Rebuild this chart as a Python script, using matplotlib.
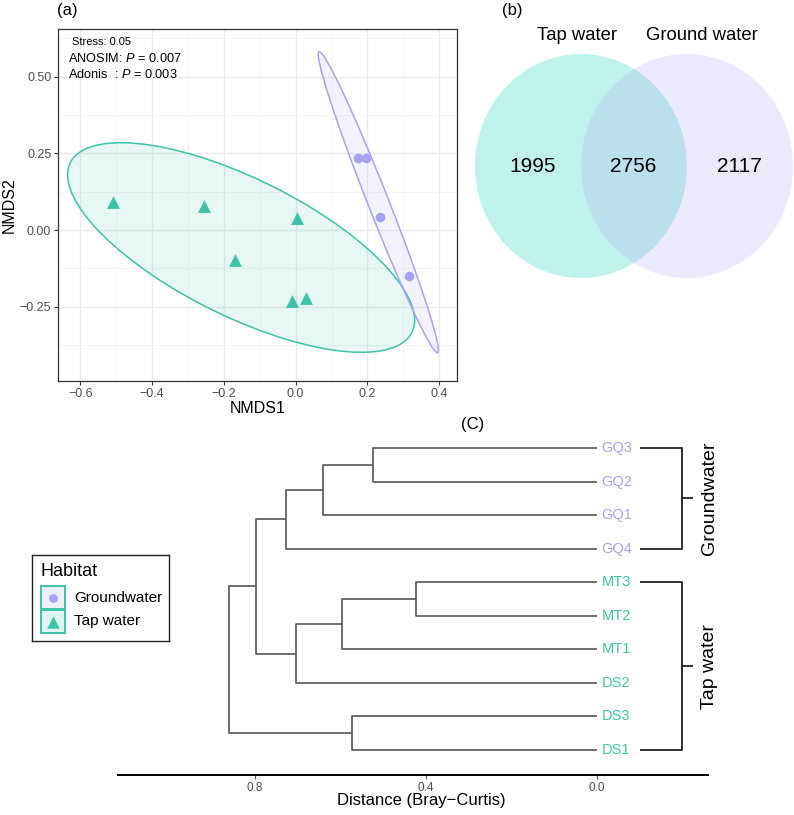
import numpy as np
import matplotlib.pyplot as plt
from matplotlib.patches import Ellipse, Rectangle
from matplotlib.ticker import FuncFormatter, MultipleLocator

plt.rcParams['font.family'] = ['Liberation Sans', 'DejaVu Sans']
plt.rcParams['mathtext.fontset'] = 'custom'
plt.rcParams['mathtext.rm'] = 'Liberation Sans'
plt.rcParams['mathtext.it'] = 'Liberation Sans:italic'

teal = '#3cc3a8'
lav = '#a6a2f4'

# (a) NMDS scores
tap_x = [-0.510, -0.255, -0.168, 0.004, -0.011, 0.029]
tap_y = [0.092, 0.078, -0.098, 0.038, -0.230, -0.221]
gw_x = [0.174, 0.196, 0.235, 0.316]
gw_y = [0.234, 0.234, 0.044, -0.149]
stats_text = ['Stress: 0.05', r'ANOSIM: $\mathit{P}$ = 0.007', r'Adonis  : $\mathit{P}$ = 0.003']

# (b) Venn counts: tap only, shared, ground only
venn_sets = ['Tap water', 'Ground water']
venn_counts = [1995, 2756, 2117]

# (c) dendrogram, leaves top to bottom, merges as (child, child, height)
leaves = ['GQ3', 'GQ2', 'GQ1', 'GQ4', 'MT3', 'MT2', 'MT1', 'DS2', 'DS3', 'DS1']
leaf_group = ['Groundwater'] * 4 + ['Tap water'] * 6
merges = [(0, 1, 0.524), (10, 2, 0.641), (11, 3, 0.727),
          (4, 5, 0.424), (13, 6, 0.597), (14, 7, 0.704),
          (12, 15, 0.797), (8, 9, 0.573), (16, 17, 0.861)]

fig = plt.figure(figsize=(7.94, 8.15), dpi=100)
W, H = 794, 815


def px_axes(x0, y0, x1, y1):
    return fig.add_axes([x0 / W, 1 - y1 / H, (x1 - x0) / W, (y1 - y0) / H])


def minus(fmt):
    return FuncFormatter(lambda v, p: (fmt % v).replace('-', '\u2212'))


def conf_ellipse(x, y, level, **kw):
    pts = np.column_stack([x, y])
    d = len(pts) - 1
    q = d / 2 * ((1 - level) ** (-2 / d) - 1)  # F(2, d) quantile
    r = np.sqrt(2 * q)
    vals, vecs = np.linalg.eigh(np.cov(pts, rowvar=False))
    ang = np.degrees(np.arctan2(vecs[1, 1], vecs[0, 1]))
    return Ellipse(pts.mean(0), 2 * r * np.sqrt(vals[1]), 2 * r * np.sqrt(vals[0]),
                   angle=ang, **kw)


# ---- (a) NMDS
ax = px_axes(58.3, 29.3, 456.7, 381)
ax.set_xlim(-0.661, 0.4485)
ax.set_ylim(-0.492, 0.6545)
ax.xaxis.set_major_locator(MultipleLocator(0.2))
ax.xaxis.set_minor_locator(MultipleLocator(0.1))
ax.yaxis.set_major_locator(MultipleLocator(0.25))
ax.yaxis.set_minor_locator(MultipleLocator(0.125))
ax.xaxis.set_major_formatter(minus('%.1f'))
ax.yaxis.set_major_formatter(minus('%.2f'))
ax.grid(which='major', color='#ebebeb', lw=1.0)
ax.grid(which='minor', color='#f2f2f2', lw=0.6)
ax.set_axisbelow(True)
ax.tick_params(which='major', length=3, color='#333333', labelsize=9, labelcolor='#4d4d4d', pad=2)
ax.tick_params(which='minor', length=0)
for s in ax.spines.values():
    s.set_color('#333333')
    s.set_linewidth(0.9)

for x, y, c in [(tap_x, tap_y, teal), (gw_x, gw_y, lav)]:
    ax.add_patch(conf_ellipse(x, y, 0.84, facecolor=c, alpha=0.12, edgecolor='none'))
    ax.add_patch(conf_ellipse(x, y, 0.84, facecolor='none', edgecolor=c, lw=1.1))
ax.scatter(tap_x, tap_y, marker='^', s=85, color=teal, linewidths=0, zorder=3)
ax.scatter(gw_x, gw_y, marker='o', s=48, color=lav, linewidths=0, zorder=3)

ax.text(0.035, 0.963, stats_text[0], transform=ax.transAxes, fontsize=8, va='center')
ax.text(0.025, 0.918, stats_text[1], transform=ax.transAxes, fontsize=9.2, va='center')
ax.text(0.025, 0.872, stats_text[2], transform=ax.transAxes, fontsize=9.2, va='center')
ax.set_xlabel('NMDS1', fontsize=11.5, labelpad=1)
ax.set_ylabel('NMDS2', fontsize=11.5, labelpad=2)
fig.text(67 / W, 1 - 10 / H, '(a)', fontsize=12, ha='center', va='center')

# ---- (b) Venn
vx = px_axes(460, 0, 794, 300)
vx.set_xlim(0, 334)
vx.set_ylim(300, 0)
vx.axis('off')
vx.add_patch(Ellipse((121, 166), 212, 224, facecolor='#2ed6bc', alpha=0.3, edgecolor='none'))
vx.add_patch(Ellipse((227, 166), 212, 224, facecolor='#b3aef7', alpha=0.25, edgecolor='none'))
vx.text(117, 36, venn_sets[0], fontsize=13.3, ha='center', va='center')
vx.text(242, 36, venn_sets[1], fontsize=13.3, ha='center', va='center')
for xx, n in zip([73, 173, 279], venn_counts):
    vx.text(xx, 167, str(n), fontsize=15, ha='center', va='center')
fig.text(512 / W, 1 - 10 / H, '(b)', fontsize=12, ha='center', va='center')

# ---- (c) dendrogram
dx = px_axes(118, 430, 708, 775)
dx.set_xlim(1.1205, -0.2596)
dx.set_ylim(0.255, 10.536)
n = len(leaves)
ypos = {i: n - i for i in range(n)}
hgt = {i: 0.0 for i in range(n)}
for k, (a, b, h) in enumerate(merges):
    dx.plot([hgt[a], h, h, hgt[b]], [ypos[a], ypos[a], ypos[b], ypos[b]],
            color='#555555', lw=1.2, solid_capstyle='butt')
    ypos[n + k] = (ypos[a] + ypos[b]) / 2
    hgt[n + k] = h
for i, name in enumerate(leaves):
    c = lav if leaf_group[i] == 'Groundwater' else teal
    dx.text(-0.01, ypos[i], name, color=c, fontsize=10.5, ha='left', va='center', clip_on=False)

for g in ['Groundwater', 'Tap water']:
    ys = [ypos[i] for i in range(n) if leaf_group[i] == g]
    top, bot = max(ys), min(ys)
    mid = (top + bot) / 2
    kw = dict(color='#222222', lw=1.3, clip_on=False, solid_capstyle='butt')
    dx.plot([-0.100, -0.199, -0.199, -0.100], [top, top, bot, bot], **kw)
    dx.plot([-0.199, -0.225], [mid, mid], **kw)
    dx.text(-0.262, mid, g, rotation=90, fontsize=14, ha='center', va='center')

for s in ['top', 'right', 'left']:
    dx.spines[s].set_visible(False)
dx.spines['bottom'].set_linewidth(1.4)
dx.set_yticks([])
dx.set_xticks([0.8, 0.4, 0.0])
dx.xaxis.set_major_formatter(minus('%.1f'))
dx.tick_params(axis='x', length=3, color='#555555', labelsize=8.5, labelcolor='#4d4d4d', pad=2)
dx.set_xlabel('Distance (Bray\u2212Curtis)', fontsize=12)
dx.xaxis.set_label_coords(0.514, -0.052)
fig.text(473 / W, 1 - 425 / H, '(C)', fontsize=12, ha='center', va='center')

# legend
lg = px_axes(32, 555, 169, 641)
lg.set_xlim(0, 137)
lg.set_ylim(86, 0)
lg.set_xticks([])
lg.set_yticks([])
for s in lg.spines.values():
    s.set_linewidth(1.0)
    s.set_color('#222222')
lg.text(9, 16, 'Habitat', fontsize=13, va='center')
keys = [('Groundwater', lav, 'o', 40, '#efeefc'), ('Tap water', teal, '^', 80, '#dff4f0')]
for j, (lab, c, m, sz, fc) in enumerate(keys):
    y0 = 31 + 24 * j
    lg.add_patch(Rectangle((9, y0), 24, 23, facecolor=fc, edgecolor=teal, lw=1.4))
    lg.scatter([21], [y0 + 11.5], marker=m, s=sz, color=c, linewidths=0)
    lg.text(42, y0 + 11.5, lab, fontsize=11, va='center')

fig.savefig('out.png', dpi=100)
